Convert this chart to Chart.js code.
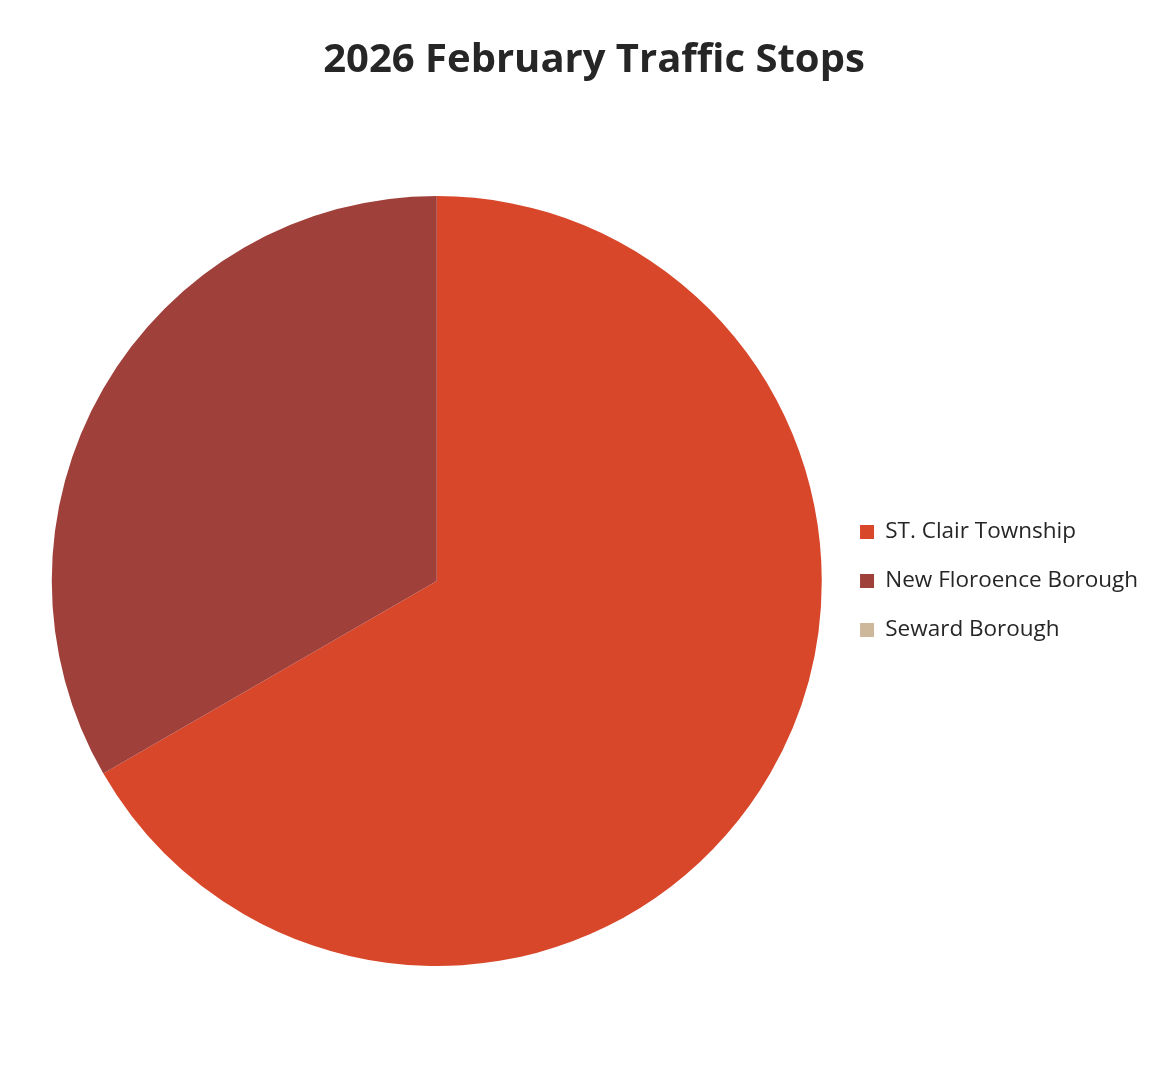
<!DOCTYPE html>
<html>
<head>
<meta charset="utf-8">
<script src="https://cdn.jsdelivr.net/npm/chart.js@4.4.0/dist/chart.umd.min.js"></script>
<style>
  html, body { margin: 0; padding: 0; background: #fff; }
  #wrap { width: 1152px; height: 1072px; }
</style>
</head>
<body>
<div id="wrap"><canvas id="grafico"></canvas></div>
<script>
// dados
const categorias = ['ST. Clair Township', 'New Floroence Borough', 'Seward Borough'];
const paradas = [2, 1, 0];
const cores = ['#D9472B', '#A0403B', '#CDB89C'];

// desce a legenda para ficar alinhada com o centro da pizza
const descerLegenda = {
    id: 'descerLegenda',
    afterLayout(chart) {
        const leg = chart.legend;
        if (!leg) return;
        const area = chart.chartArea;
        const meio = (area.top + area.bottom) / 2;
        const atual = (leg.top + leg.bottom) / 2;
        const d = meio - atual;
        leg.top += d;
        leg.bottom += d;
    }
};

function desenharPizza() {
    const ctx = document.getElementById('grafico').getContext('2d');

    new Chart(ctx, {
        type: 'pie',
        data: {
            labels: categorias,
            datasets: [{
                data: paradas,
                backgroundColor: cores,
                borderWidth: 0
            }]
        },
        options: {
            responsive: true,
            maintainAspectRatio: false,
            animation: false,
            layout: { padding: { left: 40, right: 4, top: 0, bottom: 106 } },
            plugins: {
                title: {
                    display: true,
                    text: '2026 February Traffic Stops',
                    color: '#262626',
                    font: { family: 'Open Sans', size: 40, weight: 'bold' },
                    padding: { top: 37, bottom: 111 }
                },
                legend: {
                    position: 'right',
                    labels: {
                        color: '#262626',
                        font: { family: 'Open Sans', size: 22.5 },
                        boxWidth: 14,
                        boxHeight: 14,
                        padding: 26.5
                    }
                },
                tooltip: { enabled: false }
            }
        },
        plugins: [descerLegenda]
    });
}

window.onload = desenharPizza;
</script>
</body>
</html>
